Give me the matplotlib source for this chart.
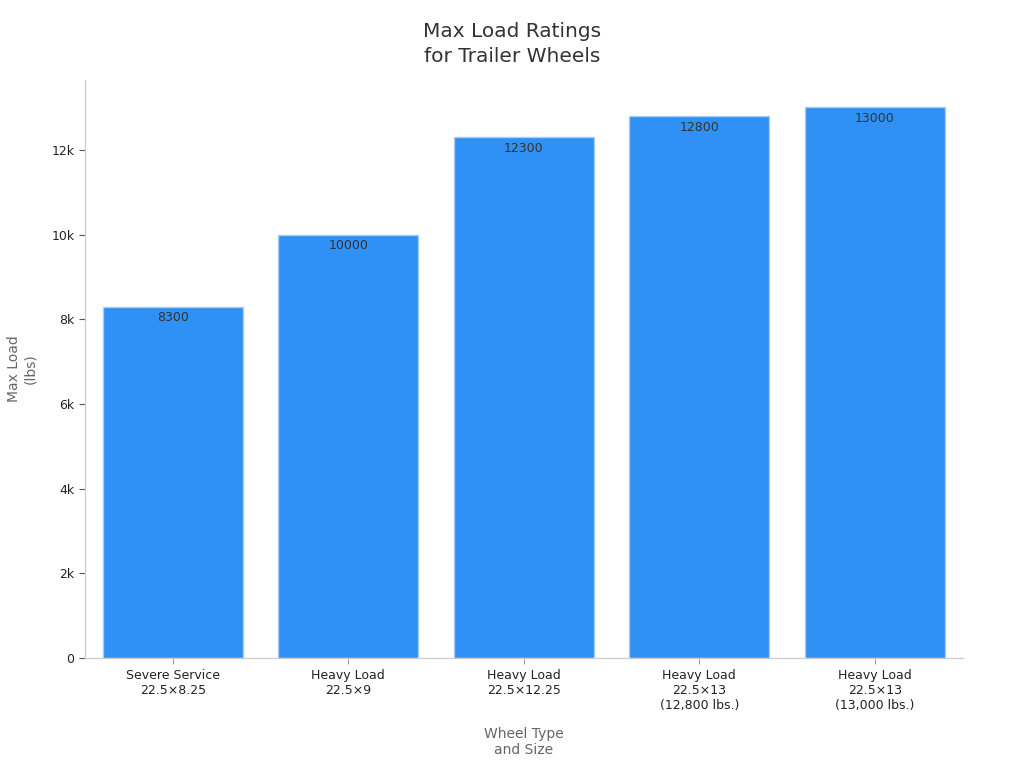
import matplotlib
matplotlib.use("Agg")
import matplotlib.pyplot as plt
from matplotlib.ticker import FuncFormatter

categories = [
    "Severe Service\n22.5×8.25",
    "Heavy Load\n22.5×9",
    "Heavy Load\n22.5×12.25",
    "Heavy Load\n22.5×13\n(12,800 lbs.)",
    "Heavy Load\n22.5×13\n(13,000 lbs.)",
]
max_load = [8300, 10000, 12300, 12800, 13000]

fig = plt.figure(figsize=(10.24, 7.68), dpi=100)
ax = fig.add_axes([0.083, 0.143, 0.857, 0.753])

x = range(len(categories))
bars = ax.bar(x, max_load, width=0.8, color="#2f91f6", edgecolor="#a9cdf5", linewidth=1.0)
for rect, value in zip(bars, max_load):
    ax.text(rect.get_x() + rect.get_width() / 2, value - 110, f"{value}",
            ha="center", va="top", fontsize=9, color="#333333")

ax.set_xlim(-0.5, len(categories) - 0.5)
ax.set_ylim(0, max(max_load) * 1.05)
ax.set_xticks(list(x))
ax.set_xticklabels(categories, fontsize=9, color="#222222")
ax.set_yticks([0, 2000, 4000, 6000, 8000, 10000, 12000])
ax.yaxis.set_major_formatter(FuncFormatter(lambda v, _: "0" if v == 0 else f"{v / 1000:g}k"))
ax.tick_params(axis="y", labelsize=9, colors="#222222", length=4)
ax.tick_params(axis="x", length=4, color="#999999")
ax.tick_params(axis="y", color="#555555")

for side in ("top", "right"):
    ax.spines[side].set_visible(False)
for side in ("left", "bottom"):
    ax.spines[side].set_color("#cccccc")
    ax.spines[side].set_linewidth(0.9)

ax.set_xlabel("Wheel Type\nand Size", fontsize=10, color="#666666", labelpad=11)
ax.set_ylabel("Max Load\n(lbs)", fontsize=10, color="#666666", labelpad=10)
fig.text(0.5, 0.972, "Max Load Ratings\nfor Trailer Wheels", fontsize=14.5, color="#333333",
         ha="center", va="top", linespacing=1.45)

fig.savefig("out.png", dpi=100)
